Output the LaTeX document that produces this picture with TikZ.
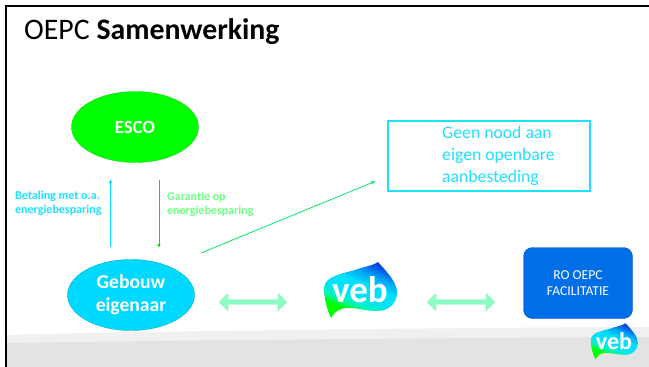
\documentclass[tikz,border=0pt]{standalone}
\usepackage{fontspec}
\setmainfont{Carlito}
\usetikzlibrary{arrows.meta,shapes.geometric,shapes.arrows}
\definecolor{cy}{RGB}{0,217,255}
\definecolor{cyl}{RGB}{30,225,255}
\definecolor{gr}{RGB}{0,255,0}
\definecolor{grl}{RGB}{110,255,130}
\definecolor{mint}{RGB}{140,255,195}
\definecolor{mintd}{RGB}{120,245,175}
\definecolor{ro}{RGB}{0,110,230}
\definecolor{sprg}{RGB}{0,235,110}
\definecolor{lfblue}{RGB}{0,70,225}
\definecolor{lfcy}{RGB}{0,225,250}
\definecolor{lfmid}{RGB}{0,245,190}
\definecolor{lfsky}{RGB}{0,170,245}
\pgfdeclareverticalshading{leafsh}{100bp}{color(0bp)=(gr); color(31bp)=(gr); color(38bp)=(lfmid); color(46bp)=(lfcy); color(55bp)=(lfcy); color(64bp)=(lfsky); color(74bp)=(lfblue); color(100bp)=(lfblue)}
\tikzset{
 x=1pt,y=-1pt,
 owner/.style={ellipse,minimum width=127pt,minimum height=71pt,inner sep=0pt,align=center},
 lab/.style={font=\bfseries\fontsize{12}{14}\selectfont,align=left,anchor=west,inner sep=0pt},
 dbl/.style={double arrow,draw=mintd,fill=mint,line width=.4pt,minimum height=67pt,minimum width=17pt,double arrow head extend=0.6pt,inner sep=0pt},
 leaf/.pic={
   \shade[shading=leafsh,shading angle=-22]
     (-36,-3) .. controls (-36,-15) and (-15,-18) .. (-5,-21) .. controls (3,-24) and (12,-25) .. (18,-29)
     .. controls (28,-18) and (37,-8) .. (37,1) .. controls (37,14) and (27,20) .. (17,20)
     .. controls (5,20) and (-5,16) .. (-15,17) .. controls (-22,18) and (-26,22) .. (-29,27)
     .. controls (-33,18) and (-36,8) .. (-36,-3) -- cycle;
 }
}
\begin{document}
\begin{tikzpicture}
\useasboundingbox (0,0) rectangle (649,367);
\fill[white] (0,0) rectangle (649,367);
% footer band
\fill[black!6] (6,335) .. controls (200,330) and (450,328) .. (649,327) -- (649,367) -- (6,367) -- cycle;
\fill[black!11] (6,343) .. controls (200,340) and (450,338) .. (649,337) -- (649,367) -- (6,367) -- cycle;
% frame
\draw[black,line width=2.2pt] (6,367) -- (6,6) -- (649,6);
\node[anchor=west,inner sep=0pt,font=\fontsize{29.8}{34}\selectfont] (title) at (24,32) {OEPC \textbf{Samenwerking}};
\node[owner,fill=gr,draw=gr!80!black,line width=.3pt,text=white,font=\bfseries\fontsize{18.7}{22}\selectfont] (esco) at (135,127) {ESCO};
\node[owner,fill=cy,draw=cy!80!black,line width=.4pt,text=white,font=\bfseries\fontsize{19.6}{23.5}\selectfont] (owner) at (131,295) {Gebouw\\eigenaar};
\node[draw=cyl,line width=1.2pt,minimum width=202pt,minimum height=70pt,inner sep=0pt] (geen) at (489,156) {};
\node[anchor=west,inner sep=0pt,align=left,text=cyl,font=\fontsize{17.7}{21.8}\selectfont] (geent) at (442,156) {Geen nood aan\\eigen openbare\\aanbesteding};
\node[draw=ro!85!black,fill=ro,rounded corners=9pt,minimum width=109pt,minimum height=71pt,inner sep=0pt,align=center,text=white,font=\fontsize{13.6}{15.5}\selectfont] (ro) at (578,283) {RO OEPC\\FACILITATIE};
\coordinate (au) at (110.5,247);
\coordinate (at) at (110.5,179);
\coordinate (bu) at (159,180);
\coordinate (bt) at (159,248);
\coordinate (cu) at (201,253);
\coordinate (ct) at (376,181);
\draw[cy,line width=.9pt,-{Latex[length=4pt,width=3.5pt]}] (au) -- (at);
\draw[gr!90!black,line width=1pt,-{Latex[length=4pt,width=3.5pt]}] (bu) -- (bt);
\draw[sprg,line width=.8pt,-{Latex[length=5pt,width=3.5pt]}] (cu) -- (ct);
\node[lab,text=cyl] (bet) at (15,203) {Betaling met o.a.\\energiebesparing};
\node[lab,text=grl] (gar) at (167,204) {Garantie op\\energiebesparing};
\node[dbl] (d1) at (253,302) {};
\node[dbl] (d2) at (461,302) {};
\pic at (360,291) {leaf};
\node[text=white,inner sep=0pt,font=\bfseries\fontsize{37}{37}\selectfont] (veb1) at (360,290) {veb};
\pic[scale=.645] at (614,342) {leaf};
\node[text=white,inner sep=0pt,font=\bfseries\fontsize{24}{24}\selectfont] (veb2) at (614,341) {veb};
\end{tikzpicture}
\end{document}
